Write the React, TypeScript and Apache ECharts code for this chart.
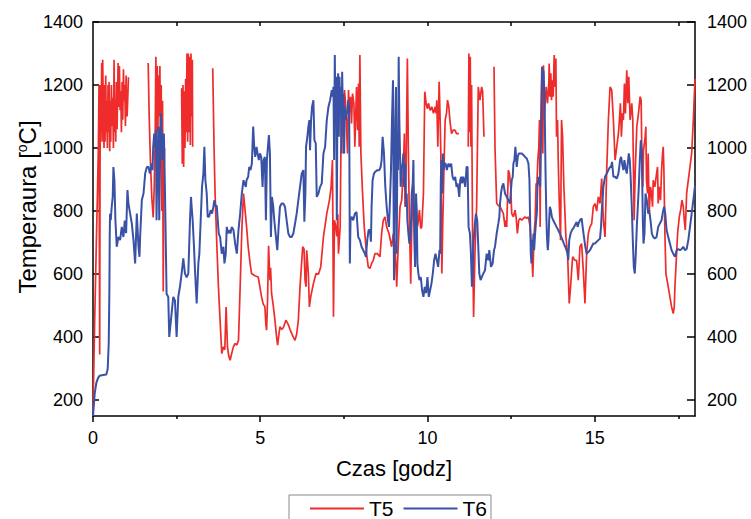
import React, { useEffect, useRef } from "react";
import * as echarts from "echarts";

// ---- Data (time in hours, temperature in °C; null = gap in record) ----
const T5_TIME = [
  0, 0.05, 0.1, 0.13, 0.16, 0.18, 0.19, 0.2, 0.21, 0.22, 0.24, 0.26, 0.27, 0.29, 0.31, 0.33, 0.34, 0.36, 0.38, 0.4,
  0.41, 0.43, 0.45, 0.46, 0.48, 0.5, 0.51, 0.53, 0.55, 0.57, 0.59, 0.61, 0.63, 0.65, 0.66, 0.68, 0.7, 0.72, 0.75, 0.77,
  0.79, 0.81, 0.83, 0.85, 0.87, 0.89, 0.91, 0.93, 0.95, 0.97, 0.99, 1.0, 1.02, 1.04, 1.06, 1.07,
  1.65, 1.68, 1.72, 1.76, 1.8, 1.83, 1.86, 1.88, 1.9, 1.92, 1.94, 1.96, 1.98, 2.0, 2.02, 2.04, 2.06, 2.08, 2.1, 2.12, 2.14, 2.15,
  2.65, 2.67, 2.69, 2.71, 2.73, 2.75, 2.77, 2.79, 2.81, 2.83, 2.85, 2.87, 2.89, 2.91, 2.93, 2.95, 2.97, 2.98, 2.99,
  3.58, 3.62, 3.65, 3.7, 3.75, 3.8, 3.85, 3.9, 3.94, 3.98, 4.02, 4.06, 4.1, 4.15, 4.2, 4.25, 4.3, 4.35, 4.4, 4.45,
  4.5, 4.55, 4.6, 4.64, 4.69, 4.74, 4.84, 4.94, 4.99, 5.04, 5.09, 5.14, 5.17, 5.19, 5.22, 5.25, 5.29, 5.31, 5.34, 5.39,
  5.44, 5.49, 5.52, 5.56, 5.59, 5.64, 5.69, 5.74, 5.77, 5.84, 5.89, 5.94, 5.99, 6.04, 6.09, 6.14, 6.19, 6.27, 6.31, 6.34,
  6.37, 6.39, 6.44, 6.47, 6.51, 6.59, 6.67, 6.74, 6.81, 6.89, 6.99, 7.07, 7.12, 7.16, 7.19, 7.22, 7.26, 7.29, 7.32, 7.34,
  7.39, 7.41, 7.44, 7.49, 7.52, 7.56, 7.61, 7.64, 7.66, 7.7, 7.73, 7.76, 7.8, 7.83, 7.85, 7.88, 7.91, 7.94, 7.96, 7.98,
  8.01, 8.06, 8.11, 8.18, 8.23, 8.28, 8.33, 8.38, 8.43, 8.5, 8.58, 8.63, 8.68, 8.73, 8.78, 8.85, 8.93, 8.98, 9.03, 9.08,
  9.13, 9.18, 9.23, 9.28, 9.31, 9.33, 9.36, 9.4, 9.43, 9.46, 9.5, 9.53, 9.58, 9.63, 9.66, 9.7, 9.73, 9.76, 9.8, 9.83,
  9.88, 9.92, 9.96, 10.0, 10.03, 10.08, 10.13, 10.18, 10.23, 10.26, 10.28, 10.31, 10.35, 10.38, 10.4, 10.43, 10.46, 10.5, 10.53, 10.57,
  10.6, 10.64, 10.67, 10.72, 10.77, 10.82, 10.87, 10.94, 10.95,
  11.22, 11.24, 11.26, 11.28, 11.3, 11.32, 11.35, 11.38, 11.42, 11.47, 11.52, 11.57, 11.62, 11.65, 11.69, 11.7,
  11.99, 12.02, 12.07, 12.12, 12.17, 12.22, 12.27, 12.32, 12.35, 12.37, 12.42, 12.45, 12.49, 12.52, 12.57, 12.62, 12.65, 12.69, 12.73, 12.77,
  12.82, 12.87, 12.92, 12.97, 13.02, 13.07, 13.12, 13.15, 13.19, 13.22, 13.25, 13.27, 13.3, 13.33, 13.35, 13.37, 13.39, 13.42, 13.45, 13.47,
  13.49, 13.52, 13.55, 13.59, 13.63, 13.64, 13.66, 13.69, 13.71, 13.74, 13.76, 13.79, 13.82, 13.84, 13.86, 13.89, 13.91, 13.94, 13.98, 14.01,
  14.04, 14.08, 14.14, 14.19, 14.24, 14.28, 14.34, 14.41, 14.46, 14.51, 14.56, 14.61, 14.66, 14.71, 14.76, 14.81, 14.86, 14.91, 14.96, 15.01,
  15.06, 15.11, 15.16, 15.21, 15.26, 15.31, 15.36, 15.41, 15.46, 15.51, 15.56, 15.61, 15.66, 15.71, 15.74, 15.77, 15.8, 15.83, 15.86, 15.89,
  15.92, 15.96, 15.99, 16.02, 16.06, 16.11, 16.14, 16.18, 16.21, 16.26, 16.31, 16.36, 16.39, 16.41, 16.44, 16.46, 16.51, 16.53, 16.55, 16.58,
  16.6, 16.63, 16.67, 16.7, 16.73, 16.75, 16.8, 16.85, 16.88, 16.9, 16.93, 16.97, 17.0, 17.03, 17.05, 17.07, 17.1, 17.13, 17.2, 17.25,
  17.3, 17.35, 17.38, 17.4, 17.43, 17.48, 17.53, 17.57, 17.61, 17.65, 17.68, 17.71, 17.75, 17.8, 17.85, 17.9, 17.95, 18.0,
];
const T5_TEMP = [
  160, 450, 700, 840, 1000, 1200, 700, 345, 900, 1200, 1050, 1270, 1020, 1280, 1100, 1000, 1200, 1020, 1230, 1050,
  1150, 1000, 1200, 1050, 1210, 990, 1150, 1020, 1200, 1070, 1160, 1000, 1280, 1050, 1150, 1020, 1210, 1060, 1270, 1130,
  1260, 1120, 1180, 1050, 1210, 1090, 1250, 1150, 1200, 1070, 1230, 1150, 1100, 1160, 1225, null,
  1270, 1100, 950, 840, 780, 870, 1050, 1290, 1000, 1260, 1050, 1230, 1100, 1260, 1000, 1200, 800, 1150, 545, 900, 1000, null,
  1190, 950, 1200, 940, 1180, 1000, 1220, 1050, 1300, 1020, 1300, 1050, 1290, 1010, 1300, 1100, 1280, 1004, null,
  1253, 1000, 856, 700, 560, 453, 348, 370, 360, 496, 370, 340, 327, 350, 370, 380, 375, 390, 560, 740,
  856, 800, 740, 687, 640, 602, 595, 591, 560, 528, 505, 496, 440, 422, 520, 690, 581, 620, 538, 500,
  454, 400, 375, 410, 433, 425, 430, 445, 454, 440, 425, 412, 400, 390, 410, 454, 560, 687, 680, 581,
  560, 676, 600, 496, 528, 570, 602, 600, 623, 718, 792, 835, 877, 962, 465, 771, 750, 720, 790, 665,
  750, 962, 1184, 983, 1184, 1130, 983, 1184, 1110, 1163, 1078, 1173, 1142, 1004, 1089, 1194, 1057, 1205, 1004, 1295,
  983, 856, 750, 665, 623, 618, 634, 644, 665, 665, 655, 729, 771, 782, 750, 729, 687, 729, 700, 560,
  700, 814, 835, 930, 1046, 814, 930, 1284, 983, 771, 570, 750, 877, 623, 835, 750, 770, 803, 745, 750,
  856, 1179, 1142, 1125, 1142, 1120, 1131, 1110, 1131, 1110, 1152, 1004, 1210, 1089, 983, 602, 771, 962, 1089, 1110,
  1152, 1131, 1089, 1046, 1057, 1057, 1046, 1046, null,
  1004, 1300, 1050, 1290, 1004, 1200, 700, 464, 665, 814, 1194, 1152, 1194, 1180, 1036, null,
  1258, 1000, 824, 818, 814, 803, 792, 750, 771, 750, 930, 920, 877, 792, 782, 803, 782, 729, 771, 777,
  771, 777, 782, 777, 782, 750, 665, 591, 729, 771, 888, 877, 962, 1004, 1089, 750, 1089, 1258, 983, 1263,
  1089, 1142, 1194, 1142, 1210, 1268, 1163, 1237, 1152, 1215, 1163, 1295, 1194, 1284, 1036, 1089, 962, 835, 708, 1089,
  1036, 877, 718, 665, 507, 560, 655, 644, 644, 581, 687, 697, 612, 507, 665, 729, 750, 760, 814, 824,
  800, 845, 824, 903, 771, 718, 930, 1089, 1194, 1184, 1089, 962, 1004, 1046, 1089, 1142, 1036, 1110, 1089, 1205,
  1110, 1247, 1142, 1226, 1089, 1142, 1089, 771, 919, 1068, 1110, 1163, 1152, 983, 877, 993, 1036, 1068, 898, 856,
  983, 792, 877, 856, 814, 898, 877, 919, 940, 824, 877, 835, 930, 983, 1004, 930, 729, 602, 560, 528,
  496, 475, 496, 560, 623, 729, 782, 803, 835, 814, 771, 740, 856, 898, 940, 983, 1089, 1220,
];

const T6_TIME = [
  0, 0.05, 0.1, 0.15, 0.2, 0.3, 0.4, 0.44, 0.47, 0.49, 0.5, 0.51, 0.53, 0.56, 0.59, 0.61, 0.64, 0.67, 0.71, 0.76,
  0.81, 0.86, 0.91, 0.95, 0.99, 1.03, 1.06, 1.11, 1.16, 1.21, 1.26, 1.31, 1.36, 1.39, 1.41, 1.46, 1.51, 1.56, 1.61, 1.66,
  1.7, 1.75, 1.78, 1.8, 1.83, 1.86, 1.88, 1.9, 1.93, 1.96, 1.98, 2.0, 2.03, 2.05, 2.08, 2.12, 2.15, 2.2, 2.25, 2.28,
  2.32, 2.36, 2.4, 2.45, 2.5, 2.55, 2.6, 2.65, 2.7, 2.75, 2.8, 2.85, 2.9, 2.93, 2.95, 2.98, 3.02, 3.05, 3.1, 3.15,
  3.18, 3.22, 3.26, 3.3, 3.33, 3.36, 3.4, 3.43, 3.47, 3.52, 3.56, 3.6, 3.63, 3.67, 3.7, 3.73, 3.76, 3.8, 3.85, 3.9,
  3.93, 3.97, 4.0, 4.03, 4.07, 4.11, 4.15, 4.2, 4.25, 4.3, 4.35, 4.4, 4.45, 4.5, 4.53, 4.57, 4.59, 4.64, 4.67, 4.71,
  4.75, 4.79, 4.82, 4.85, 4.89, 4.92, 4.96, 4.99, 5.03, 5.07, 5.1, 5.14, 5.17, 5.2, 5.23, 5.26, 5.29, 5.32, 5.35, 5.39,
  5.42, 5.47, 5.51, 5.55, 5.59, 5.64, 5.69, 5.74, 5.79, 5.84, 5.89, 5.94, 5.99, 6.04, 6.09, 6.14, 6.19, 6.24, 6.29, 6.32,
  6.35, 6.37, 6.41, 6.44, 6.47, 6.49, 6.52, 6.55, 6.59, 6.62, 6.66, 6.69, 6.74, 6.79, 6.84, 6.89, 6.94, 6.99, 7.04, 7.09,
  7.14, 7.17, 7.19, 7.21, 7.23, 7.25, 7.27, 7.29, 7.31, 7.33, 7.35, 7.37, 7.39, 7.41, 7.43, 7.45, 7.47, 7.49, 7.51, 7.53,
  7.56, 7.58, 7.61, 7.63, 7.66, 7.68, 7.7, 7.73, 7.78, 7.83, 7.88, 7.93, 7.98, 8.03, 8.08, 8.13, 8.16, 8.2, 8.24, 8.28,
  8.31, 8.33, 8.36, 8.4, 8.44, 8.5, 8.56, 8.6, 8.63, 8.66, 8.7, 8.74, 8.78, 8.82, 8.85, 8.88, 8.91, 8.94, 8.97, 9.0,
  9.02, 9.04, 9.06, 9.08, 9.1, 9.12, 9.14, 9.16, 9.18, 9.2, 9.23, 9.26, 9.28, 9.3, 9.32, 9.34, 9.36, 9.38, 9.4, 9.43,
  9.46, 9.5, 9.53, 9.56, 9.58, 9.6, 9.63, 9.66, 9.68, 9.7, 9.73, 9.76, 9.8, 9.84, 9.88, 9.92, 9.96, 10.0, 10.04, 10.08,
  10.12, 10.16, 10.2, 10.24, 10.28, 10.32, 10.36, 10.38, 10.4, 10.42, 10.44, 10.46, 10.48, 10.5, 10.54, 10.58, 10.6, 10.63, 10.67, 10.71,
  10.75, 10.79, 10.83, 10.87, 10.9, 10.93, 10.95, 10.98, 11.01, 11.04, 11.07, 11.1, 11.13, 11.17, 11.2, 11.23, 11.27, 11.3, 11.33, 11.35,
  11.37, 11.41, 11.45, 11.49, 11.52, 11.55, 11.59, 11.63, 11.67, 11.72, 11.77, 11.82, 11.85, 11.9, 11.95, 11.99, 12.02, 12.07, 12.12, 12.15,
  12.17, 12.2, 12.23, 12.27, 12.32, 12.37, 12.42, 12.47, 12.49, 12.52, 12.55, 12.57, 12.6, 12.63, 12.67, 12.7, 12.73, 12.77, 12.82, 12.87,
  12.92, 12.97, 13.02, 13.05, 13.07, 13.09, 13.11, 13.13, 13.15, 13.17, 13.19, 13.22, 13.25, 13.27, 13.29, 13.32, 13.35, 13.37, 13.39, 13.41,
  13.43, 13.45, 13.47, 13.49, 13.51, 13.53, 13.55, 13.57, 13.59, 13.6, 13.62, 13.64, 13.66, 13.69, 13.72, 13.76, 13.81, 13.86, 13.91, 13.96,
  14.0, 14.04, 14.08, 14.12, 14.16, 14.19, 14.21, 14.24, 14.28, 14.32, 14.36, 14.41, 14.46, 14.49, 14.52, 14.56, 14.61, 14.64, 14.68, 14.72,
  14.76, 14.81, 14.86, 14.91, 14.96, 15.01, 15.06, 15.11, 15.16, 15.19, 15.22, 15.26, 15.31, 15.36, 15.41, 15.46, 15.49, 15.52, 15.56, 15.61,
  15.66, 15.71, 15.76, 15.79, 15.82, 15.86, 15.89, 15.92, 15.96, 15.99, 16.02, 16.05, 16.08, 16.11, 16.14, 16.17, 16.2, 16.23, 16.26, 16.29,
  16.32, 16.35, 16.38, 16.41, 16.44, 16.46, 16.49, 16.52, 16.56, 16.6, 16.63, 16.67, 16.71, 16.75, 16.8, 16.85, 16.9, 16.95, 17.0, 17.05,
  17.08, 17.11, 17.15, 17.2, 17.25, 17.3, 17.35, 17.4, 17.45, 17.5, 17.55, 17.6, 17.65, 17.7, 17.75, 17.8, 17.85, 17.9, 17.95, 18.0,
];
const T6_TEMP = [
  150, 220, 255, 270, 278, 280, 282, 300, 380, 550, 718, 792, 771, 814, 845, 940, 898, 771, 687, 718,
  708, 750, 718, 770, 730, 867, 824, 792, 761, 708, 634, 792, 687, 655, 720, 835, 856, 919, 940, 940,
  919, 951, 930, 1004, 1046, 1004, 1057, 771, 983, 1068, 771, 919, 1110, 1057, 962, 1046, 877, 538, 528, 401,
  443, 486, 528, 517, 401, 528, 560, 602, 650, 602, 590, 602, 771, 845, 814, 771, 687, 612, 507, 634,
  665, 771, 877, 919, 1004, 898, 856, 782, 782, 803, 792, 814, 835, 814, 818, 771, 729, 718, 665, 687,
  634, 665, 750, 729, 740, 729, 750, 740, 697, 665, 740, 792, 856, 898, 888, 877, 898, 909, 940, 930,
  951, 1068, 1004, 972, 1004, 983, 962, 983, 972, 877, 962, 972, 771, 962, 1004, 1041, 983, 718, 845, 814,
  771, 718, 676, 750, 814, 824, 824, 814, 771, 729, 718, 718, 729, 760, 792, 835, 877, 919, 930, 766,
  856, 1004, 1036, 1068, 1089, 993, 1089, 1131, 1152, 1025, 1015, 845, 856, 877, 888, 983, 1004, 1089, 1131, 1152,
  1184, 1163, 1194, 962, 1295, 1089, 1226, 771, 1173, 1237, 1036, 1226, 1142, 1194, 983, 1242, 1120, 1173, 983, 1131,
  1089, 1120, 1110, 1152, 1131, 634, 771, 782, 771, 792, 797, 718, 708, 687, 676, 665, 655, 708, 740, 740,
  703, 814, 898, 919, 925, 930, 930, 940, 962, 1036, 983, 877, 814, 771, 750, 835, 930, 1089, 1215, 581,
  877, 1089, 1194, 665, 983, 930, 1290, 1089, 983, 877, 940, 951, 983, 877, 930, 951, 814, 856, 771, 729,
  697, 729, 856, 888, 962, 771, 623, 856, 792, 634, 602, 581, 591, 549, 528, 560, 540, 591, 528, 549,
  570, 602, 644, 665, 644, 623, 676, 665, 898, 962, 856, 983, 930, 951, 951, 930, 940, 951, 940, 951,
  909, 898, 909, 877, 888, 866, 845, 898, 909, 888, 909, 898, 877, 940, 940, 750, 729, 665, 560, 602,
  687, 750, 792, 770, 687, 602, 581, 592, 602, 612, 665, 644, 676, 623, 634, 676, 687, 729, 761, 782,
  824, 856, 877, 888, 856, 845, 835, 824, 856, 898, 909, 951, 962, 1004, 940, 972, 983, 983, 983, 978,
  972, 967, 951, 898, 771, 665, 634, 708, 687, 729, 676, 729, 771, 792, 877, 909, 898, 877, 1004, 1089,
  1258, 1215, 1247, 1194, 1089, 930, 814, 729, 687, 676, 708, 771, 814, 803, 782, 771, 761, 750, 740, 729,
  718, 708, 697, 687, 676, 665, 644, 708, 729, 740, 745, 755, 766, 750, 761, 771, 777, 750, 718, 687,
  665, 670, 676, 687, 697, 697, 703, 708, 713, 750, 814, 877, 909, 919, 930, 940, 940, 956, 909, 909,
  903, 919, 962, 972, 951, 930, 962, 940, 919, 951, 983, 962, 898, 814, 708, 623, 602, 665, 750, 814,
  877, 962, 1025, 983, 771, 697, 729, 856, 835, 792, 803, 771, 729, 718, 713, 718, 750, 761, 771, 803,
  814, 792, 740, 718, 697, 676, 665, 655, 676, 680, 676, 680, 687, 676, 680, 708, 750, 792, 835, 880,
];

const X_LABELS = [0, 5, 10, 15];
const X_MINOR = [2.5, 7.5, 12.5, 17.5];
const X_TOP = [2.5, 5, 7.5, 10, 12.5, 15, 17.5];
const Y_LABELS = [200, 400, 600, 800, 1000, 1200, 1400];

const FONT = "'Liberation Sans', Arial, Helvetica, sans-serif";
const RED = "#ee2c2c";
const BLUE = "#3a52a6";

function pairs(t: number[], v: (number | null)[]) {
  return t.map((x, i) => [x, v[i] === null ? "-" : v[i]]);
}

export default function App() {
  const ref = useRef<HTMLDivElement>(null);

  useEffect(() => {
    if (!ref.current) return;
    const chart = echarts.init(ref.current, null, { renderer: "svg" });
    const axisLine = { show: true, onZero: false, lineStyle: { color: "#000", width: 1.5 } };
    const plain = (v: number) => String(v);
    const option: any = {
      animation: false,
      backgroundColor: "#fff",
      textStyle: { fontFamily: FONT, color: "#000" },
      grid: { left: 93, right: 56, top: 22, bottom: 103, containLabel: false },
      legend: {
        data: [
          { name: "T5", icon: "rect" },
          { name: "T6", icon: "rect" },
        ],
        left: 289,
        top: 495,
        orient: "horizontal",
        itemWidth: 54,
        itemHeight: 2,
        itemGap: 10,
        padding: [3, 4, 30, 21],
        borderColor: "#888",
        borderWidth: 1,
        textStyle: { fontSize: 21, lineHeight: 21, color: "#000", fontFamily: FONT },
      },
      xAxis: [
        {
          type: "value",
          position: "bottom",
          min: 0,
          max: 18,
          axisLine,
          axisTick: { show: true, inside: false, length: 6, customValues: X_LABELS, lineStyle: { color: "#000", width: 1.5 } },
          axisLabel: { customValues: X_LABELS, formatter: plain, fontSize: 18, margin: 13, color: "#000", fontFamily: FONT },
          splitLine: { show: false },
          name: "Czas [godz]",
          nameLocation: "middle",
          nameGap: 41,
          nameTextStyle: { fontSize: 22, color: "#000", fontFamily: FONT },
        },
        {
          type: "value",
          position: "bottom",
          min: 0,
          max: 18,
          axisLine: { show: false, onZero: false },
          axisTick: { show: true, inside: false, length: 3, customValues: X_MINOR, lineStyle: { color: "#000", width: 1.5 } },
          axisLabel: { show: false },
          splitLine: { show: false },
        },
        {
          type: "value",
          position: "top",
          min: 0,
          max: 18,
          axisLine,
          axisTick: { show: true, inside: true, length: 4, customValues: X_TOP, lineStyle: { color: "#000", width: 1.5 } },
          axisLabel: { show: false },
          splitLine: { show: false },
        },
      ],
      yAxis: [
        {
          type: "value",
          position: "left",
          min: 150,
          max: 1400,
          axisLine,
          axisTick: { show: true, inside: true, length: 6, customValues: Y_LABELS, lineStyle: { color: "#000", width: 1.5 } },
          axisLabel: { customValues: Y_LABELS, formatter: plain, fontSize: 18, margin: 10, color: "#000", fontFamily: FONT },
          splitLine: { show: false },
        },
        {
          type: "value",
          position: "right",
          min: 150,
          max: 1400,
          axisLine,
          axisTick: { show: true, inside: true, length: 8, customValues: Y_LABELS, lineStyle: { color: "#000", width: 1.5 } },
          axisLabel: { customValues: Y_LABELS, formatter: plain, fontSize: 18, margin: 12, color: "#000", fontFamily: FONT },
          splitLine: { show: false },
        },
      ],
      graphic: [
        {
          type: "text",
          x: 27,
          y: 207,
          rotation: Math.PI / 2,
          style: {
            text: "Temperaura [{sup|o}C]",
            fontSize: 24,
            fontFamily: FONT,
            fill: "#000",
            align: "center",
            verticalAlign: "middle",
            rich: {
              sup: { fontSize: 14, fontFamily: FONT, fill: "#000", verticalAlign: "top", padding: [0, 0, 10, 0] },
            },
          },
        },
      ],
      series: [
        {
          name: "T5",
          type: "line",
          xAxisIndex: 0,
          yAxisIndex: 0,
          data: pairs(T5_TIME, T5_TEMP),
          symbol: "none",
          connectNulls: false,
          lineStyle: { color: RED, width: 1.7 },
          itemStyle: { color: RED },
          z: 2,
        },
        {
          name: "T6",
          type: "line",
          xAxisIndex: 0,
          yAxisIndex: 0,
          data: pairs(T6_TIME, T6_TEMP),
          symbol: "none",
          lineStyle: { color: BLUE, width: 2 },
          itemStyle: { color: BLUE },
          z: 3,
        },
      ],
    };
    chart.setOption(option);
    return () => chart.dispose();
  }, []);

  return (
    <div
      ref={ref}
      style={{ position: "fixed", left: 0, top: 0, width: 751, height: 519, background: "#fff" }}
    />
  );
}
